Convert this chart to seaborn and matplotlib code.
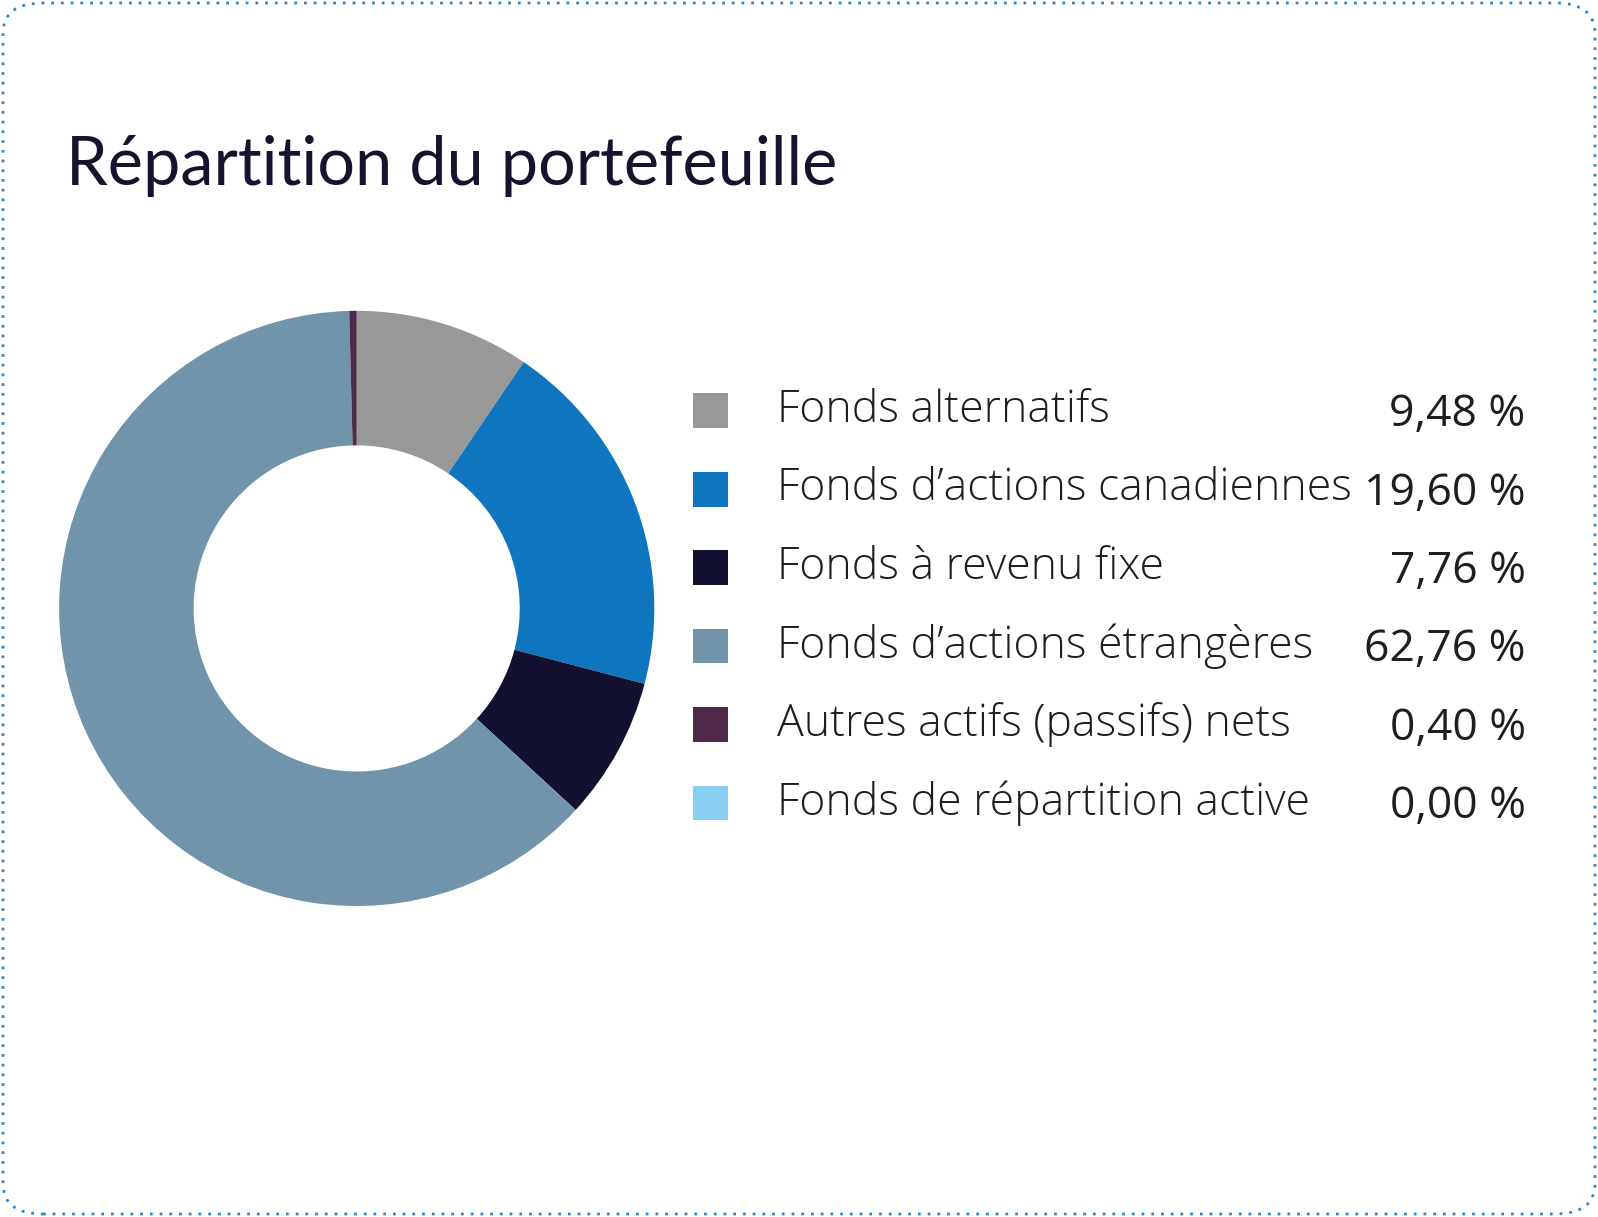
import matplotlib
matplotlib.use("Agg")
import matplotlib.pyplot as plt
import seaborn as sns
from matplotlib.patches import FancyBboxPatch, Rectangle

categories = ["Fonds alternatifs", "Fonds d\u2019actions canadiennes", "Fonds à revenu fixe",
              "Fonds d\u2019actions étrangères", "Autres actifs (passifs) nets",
              "Fonds de répartition active"]
values = [9.48, 19.60, 7.76, 62.76, 0.40, 0.00]
value_labels = ["9,48 %", "19,60 %", "7,76 %", "62,76 %", "0,40 %", "0,00 %"]
colors = sns.color_palette(["#989898", "#0E75BE", "#121130", "#7094AA", "#4E2A48", "#87CEF0"])

sns.set_theme(style="white")
plt.rcParams["font.family"] = ["Open Sans", "DejaVu Sans"]

W, H = 1598, 1217
S = W / 1568  # layout measured on a 1568-wide view
fig = plt.figure(figsize=(W / 100, H / 100), dpi=100)


def fx(px):
    return px * S / W


def fy(px):
    return 1 - px * S / H


# dotted rounded border
fig.patches.append(FancyBboxPatch((3 / W, 3 / H), 1 - 6 / W, 1 - 6 / H,
                                  boxstyle="round,pad=0,rounding_size=0.025",
                                  transform=fig.transFigure, fill=False,
                                  edgecolor="#2F86C8", linewidth=2, linestyle=(0, (1, 2.5))))

fig.text(fx(65), fy(163), "Répartition du portefeuille", fontsize=48,
         color="#14142E", va="center", ha="left", family=["Lato", "DejaVu Sans"])

# donut
cx, cy, half = 350, 597, 300
ax = fig.add_axes([fx(cx - half), fy(cy + half), 2 * half * S / W, 2 * half * S / H])
ax.pie(values, colors=colors, startangle=90, counterclock=False, radius=292,
       wedgeprops=dict(width=132, linewidth=0))
ax.set_xlim(-half, half)
ax.set_ylim(-half, half)
ax.set_aspect("equal")
ax.axis("off")

# legend
for i, (cat, lab, col) in enumerate(zip(categories, value_labels, colors)):
    yc = 403 + i * 77
    fig.patches.append(Rectangle((fx(680), fy(yc + 17)), 34 * S / W, 34 * S / H,
                                 transform=fig.transFigure, facecolor=col, edgecolor="none"))
    fig.text(fx(762), fy(yc), cat, fontsize=32, color="#1E1E1E",
             va="center", ha="left", fontweight="light")
    fig.text(fx(1497), fy(yc + 4), lab, fontsize=32, color="#1E1E1E",
             va="center", ha="right")

fig.savefig("out.png", dpi=100)
